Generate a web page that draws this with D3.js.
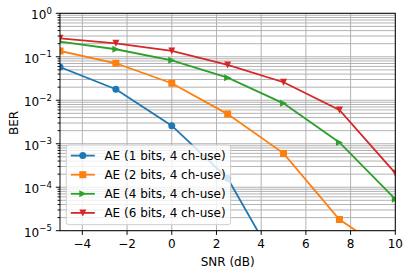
<!DOCTYPE html>
<html lang="en">
<head>
  <meta charset="UTF-8">
  <title>BER vs SNR</title>
  <script src="https://d3js.org/d3.v7.min.js"></script>
  <style>
    body { margin: 0; background: #fff; }
    svg { display: block; font-family: "DejaVu Sans", sans-serif; }
  </style>
</head>
<body>
  <svg width="409" height="275"></svg>
  <script>
    // data
    const snr = [-5, -2.5, 0, 2.5, 5, 7.5, 10];
    const ber1 = [0.058, 0.0179, 0.0026, 1.6e-4, 9e-7, null, null];
    const ber2 = [0.136, 0.071, 0.0246, 0.0048, 6.0e-4, 1.8e-5, 2.5e-6];
    const ber4 = [0.223, 0.149, 0.083, 0.033, 0.0085, 1.07e-3, 5.3e-5];
    const ber6 = [0.266, 0.204, 0.136, 0.065, 0.026, 6.0e-3, 2.1e-4];
    const labels = ["AE (1 bits, 4 ch-use)", "AE (2 bits, 4 ch-use)", "AE (4 bits, 4 ch-use)", "AE (6 bits, 4 ch-use)"];
    const colors = ["#1f77b4", "#ff7f0e", "#2ca02c", "#d62728"];
    const symbols = ["circle", "square", "tri-right", "tri-down"];
    const xTicks = [-4, -2, 0, 2, 4, 6, 8, 10];
    const yTicks = [1e-5, 1e-4, 1e-3, 1e-2, 1e-1, 1];

    const series = [ber1, ber2, ber4, ber6];

    const svg = d3.select("svg");
    const pL = 60, pR = 395.3, pT = 13.3, pB = 230.7;
    const lw = 0.96;

    const x = d3.scaleLinear().domain([-5, 10]).range([pL, pR]);
    const y = d3.scaleLog().domain([1e-5, 1]).range([pB, pT]);

    svg.append("defs").append("clipPath").attr("id", "plot")
      .append("rect").attr("x", pL).attr("y", pT)
      .attr("width", pR - pL).attr("height", pB - pT);

    // grid (major + minor on y, major on x)
    const minor = [];
    for (let e = -5; e < 0; e++) for (let m = 2; m <= 9; m++) minor.push(m * Math.pow(10, e));
    const grid = svg.append("g").attr("stroke", "#b0b0b0").attr("stroke-width", lw);
    grid.selectAll(".gy").data(minor.concat(yTicks)).join("line")
      .attr("x1", pL).attr("x2", pR)
      .attr("y1", d => y(d)).attr("y2", d => y(d));
    grid.selectAll(".gx").data(xTicks).join("line")
      .attr("y1", pT).attr("y2", pB)
      .attr("x1", d => x(d)).attr("x2", d => x(d));

    // ticks
    const ax = svg.append("g").attr("stroke", "#000").attr("stroke-width", lw);
    ax.selectAll(".tx").data(xTicks).join("line")
      .attr("x1", d => x(d)).attr("x2", d => x(d))
      .attr("y1", pB).attr("y2", pB + 4.2);
    ax.selectAll(".ty").data(yTicks).join("line")
      .attr("x1", pL - 4.2).attr("x2", pL)
      .attr("y1", d => y(d)).attr("y2", d => y(d));
    ax.selectAll(".tm").data(minor).join("line")
      .attr("x1", pL - 2.4).attr("x2", pL)
      .attr("y1", d => y(d)).attr("y2", d => y(d));

    svg.append("g").selectAll("text").data(xTicks).join("text")
      .attr("x", d => x(d)).attr("y", pB + 17.3)
      .attr("text-anchor", "middle").attr("font-size", 12)
      .text(d => d < 0 ? "\u2212" + Math.abs(d) : d);

    const yl = svg.append("g").selectAll("text").data(yTicks).join("text")
      .attr("x", pL - 8.2).attr("y", d => y(d) + 6)
      .attr("text-anchor", "end").attr("font-size", 12);
    yl.append("tspan").text("10");
    yl.append("tspan").attr("dy", -5.5).attr("font-size", 8.5)
      .text(d => { const e = Math.round(Math.log10(d)); return e < 0 ? "\u2212" + Math.abs(e) : e; });

    svg.append("text").attr("x", (pL + pR) / 2).attr("y", 266)
      .attr("text-anchor", "middle").attr("font-size", 12).text("SNR (dB)");
    svg.append("text").attr("transform", `translate(17.5,123) rotate(-90)`)
      .attr("text-anchor", "middle").attr("font-size", 12).text("BER");

    // marker paths
    function marker(sym, r) {
      if (sym === "circle") return d3.symbol(d3.symbolCircle, Math.PI * r * r)();
      if (sym === "square") return `M${-r},${-r}H${r}V${r}H${-r}Z`;
      if (sym === "tri-right") return `M${r},0L${-r},${-r}L${-r},${r}Z`;
      return `M0,${r}L${-r},${-r}L${r},${-r}Z`;
    }

    const line = d3.line().defined(d => d[1] != null)
      .x(d => x(d[0])).y(d => y(d[1]));

    const plot = svg.append("g").attr("clip-path", "url(#plot)");
    series.forEach((s, i) => {
      const pts = snr.map((v, j) => [v, s[j]]);
      plot.append("path").attr("d", line(pts)).attr("fill", "none")
        .attr("stroke", colors[i]).attr("stroke-width", 1.8);
      plot.selectAll(null).data(pts.filter(p => p[1] != null)).join("path")
        .attr("transform", p => `translate(${x(p[0])},${y(p[1])})`)
        .attr("d", marker(symbols[i], 3.5)).attr("fill", colors[i]);
    });

    // frame
    svg.append("rect").attr("x", pL).attr("y", pT)
      .attr("width", pR - pL).attr("height", pB - pT)
      .attr("fill", "none").attr("stroke", "#000").attr("stroke-width", lw);

    // legend
    const lg = svg.append("g");
    lg.append("rect").attr("x", 66.3).attr("y", 145).attr("width", 164.3).attr("height", 79.7)
      .attr("rx", 2.5).attr("fill", "#fff").attr("fill-opacity", 0.8)
      .attr("stroke", "#cccccc").attr("stroke-width", lw);
    labels.forEach((t, i) => {
      const yy = 155.6 + i * 19.1;
      lg.append("line").attr("x1", 70.8).attr("x2", 94.8).attr("y1", yy).attr("y2", yy)
        .attr("stroke", colors[i]).attr("stroke-width", 1.8);
      lg.append("path").attr("transform", `translate(82.8,${yy})`)
        .attr("d", marker(symbols[i], 3.5)).attr("fill", colors[i]);
      lg.append("text").attr("x", 104.4).attr("y", yy + 4.3).attr("font-size", 12).text(t);
    });
  </script>
</body>
</html>
